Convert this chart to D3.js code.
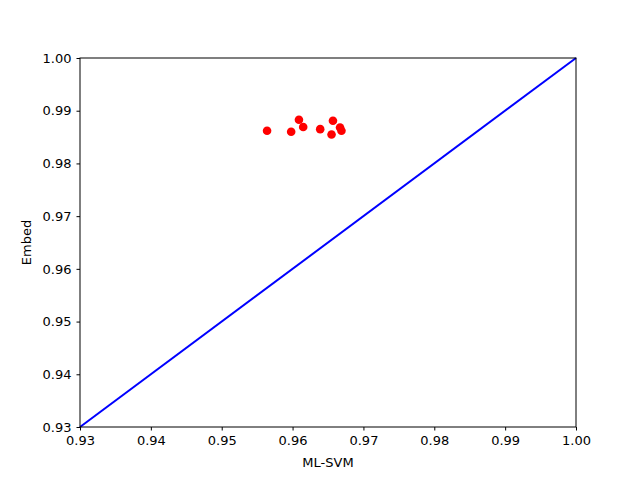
<!DOCTYPE html>
<html>
<head>
<meta charset="utf-8">
<script src="https://cdn.jsdelivr.net/npm/d3@7"></script>
<style>
  body { margin: 0; background: #fff; }
  svg { display: block; font-family: "DejaVu Sans", sans-serif; }
</style>
</head>
<body>
<svg id="chart" width="640" height="480"></svg>
<script>
// values
const mlSvm = [0.9564, 0.9598, 0.9609, 0.9615, 0.9639, 0.9657, 0.9655, 0.9667, 0.9669];
const embed = [0.9862, 0.9860, 0.9883, 0.9869, 0.9865, 0.9881, 0.9855, 0.9868, 0.9862];
const diagonal = [0.93, 1.00];
const xTicks = [0.93, 0.94, 0.95, 0.96, 0.97, 0.98, 0.99, 1.00];
const yTicks = [0.93, 0.94, 0.95, 0.96, 0.97, 0.98, 0.99, 1.00];

const margin = { top: 58, right: 64, bottom: 53, left: 80 };
const svg = d3.select("#chart");
const width = 640 - margin.left - margin.right;
const height = 480 - margin.top - margin.bottom;

const x = d3.scaleLinear().domain([0.93, 1.00]).range([0, width]);
const y = d3.scaleLinear().domain([0.93, 1.00]).range([height, 0]);

const g = svg.append("g")
  .attr("transform", `translate(${margin.left}, ${margin.top})`);

// diagonal reference line
g.append("path")
  .datum(diagonal)
  .attr("fill", "none")
  .attr("stroke", "#0000ff")
  .attr("stroke-width", 2)
  .attr("d", d3.line().x(d => x(d)).y(d => y(d)));

g.selectAll("circle")
  .data(mlSvm.map((v, i) => [v, embed[i]]))
  .join("circle")
  .attr("cx", d => x(d[0]))
  .attr("cy", d => y(d[1]))
  .attr("r", 4.3)
  .attr("fill", "#ff0000");

const xAxis = g.append("g")
  .attr("transform", `translate(0, ${height})`)
  .call(d3.axisBottom(x).tickValues(xTicks).tickFormat(d3.format(".2f")).tickSize(3.5).tickPadding(5));
const yAxis = g.append("g")
  .call(d3.axisLeft(y).tickValues(yTicks).tickFormat(d3.format(".2f")).tickSize(3.5).tickPadding(5));

[xAxis, yAxis].forEach(a => {
  a.select(".domain").remove();
  a.selectAll("text").attr("font-size", 13).attr("fill", "#000").attr("font-family", "DejaVu Sans");
  a.selectAll("line").attr("stroke", "#000").attr("stroke-width", 1);
});

// frame
g.append("rect")
  .attr("width", width).attr("height", height)
  .attr("fill", "none").attr("stroke", "#000").attr("stroke-width", 1);

svg.append("text")
  .attr("x", margin.left + width / 2).attr("y", 467)
  .attr("text-anchor", "middle").attr("font-size", 13)
  .text("ML-SVM");

svg.append("text")
  .attr("transform", `translate(31, ${margin.top + height / 2}) rotate(-90)`)
  .attr("text-anchor", "middle").attr("font-size", 13)
  .text("Embed");
</script>
</body>
</html>
